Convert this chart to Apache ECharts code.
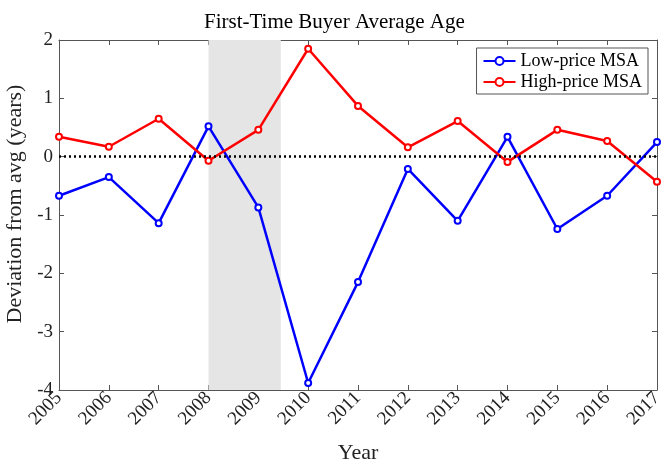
<!DOCTYPE html>
<html lang="en">
<head>
    <meta charset="UTF-8">
    <title>First-Time Buyer Average Age</title>
    <script src="https://cdn.jsdelivr.net/npm/echarts@6/dist/echarts.min.js"></script>
</head>
<body style="margin:0">
<div id="demo" style="width: 665px;height: 461px;"></div>
</body>
</html>
<script>
    var years = [2005, 2006, 2007, 2008, 2009, 2010, 2011, 2012, 2013, 2014, 2015, 2016, 2017];
    var lowPrice = [-0.67, -0.35, -1.14, 0.52, -0.87, -3.88, -2.15, -0.21, -1.10, 0.34, -1.24, -0.67, 0.25];
    var highPrice = [0.34, 0.17, 0.65, -0.07, 0.46, 1.85, 0.87, 0.16, 0.61, -0.09, 0.46, 0.27, -0.43];
    var bandRange = [2008, 2009.45];

    var font = 'Liberation Serif';
    function pairs(vals) {
        return years.map(function (y, i) { return [y, vals[i]]; });
    }

    var myChart = echarts.init(document.getElementById('demo'));
    var tickStyle = {show: true, inside: true, length: 5, lineStyle: {color: '#555'}};
    var option = {
        animation: false,
        textStyle: {fontFamily: font},
        title: {
            text: 'First-Time Buyer Average Age',
            left: 199,
            top: 7,
            textStyle: {fontFamily: font, fontSize: 21, fontWeight: 'normal', color: '#000'}
        },
        legend: {
            right: 17,
            top: 48,
            orient: 'vertical',
            backgroundColor: '#fff',
            borderColor: '#555',
            borderWidth: 1,
            borderRadius: 0,
            padding: [4, 6, 3, 6],
            itemGap: 3,
            itemWidth: 32,
            itemHeight: 10,
            textStyle: {fontFamily: font, fontSize: 18, color: '#000'},
            data: ['Low-price MSA', 'High-price MSA']
        },
        grid: {left: 59, right: 8, top: 40, bottom: 71, containLabel: false, outerBoundsMode: 'none'},
        xAxis: [{
            type: 'value',
            min: 2005,
            max: 2017,
            interval: 1,
            name: 'Year',
            nameLocation: 'middle',
            nameGap: 52,
            nameTextStyle: {fontFamily: font, fontSize: 22, color: '#222'},
            axisLine: {onZero: false, lineStyle: {color: '#555'}},
            axisTick: tickStyle,
            splitLine: {show: false},
            axisLabel: {rotate: 45, fontSize: 19, color: '#222', fontFamily: font, margin: 5,
                formatter: function (v) { return String(v); }}
        }, {
            type: 'value',
            position: 'top',
            min: 2005,
            max: 2017,
            interval: 1,
            axisLine: {show: true, onZero: false, lineStyle: {color: '#555'}},
            axisTick: tickStyle,
            axisLabel: {show: false},
            splitLine: {show: false}
        }],
        yAxis: [{
            type: 'value',
            min: -4,
            max: 2,
            interval: 1,
            name: 'Deviation from avg (years)',
            nameLocation: 'middle',
            nameGap: 29,
            nameTextStyle: {fontFamily: font, fontSize: 22, color: '#222', padding: [0, 0, 0, 22]},
            axisLine: {show: true, onZero: false, lineStyle: {color: '#555'}},
            axisTick: tickStyle,
            splitLine: {show: false},
            axisLabel: {fontSize: 19, color: '#222', fontFamily: font, margin: 6}
        }, {
            type: 'value',
            position: 'right',
            min: -4,
            max: 2,
            interval: 1,
            axisLine: {show: true, onZero: false, lineStyle: {color: '#555'}},
            axisTick: tickStyle,
            axisLabel: {show: false},
            splitLine: {show: false}
        }],
        series: [
            {
                name: 'Low-price MSA',
                type: 'line',
                data: pairs(lowPrice),
                symbol: 'emptyCircle',
                symbolSize: 6,
                lineStyle: {color: '#0000ff', width: 2.5},
                itemStyle: {color: '#0000ff', borderWidth: 2},
                z: 3,
                markArea: {
                    silent: true,
                    itemStyle: {color: '#e5e5e5'},
                    data: [[{xAxis: bandRange[0]}, {xAxis: bandRange[1]}]]
                },
                markLine: {
                    silent: true,
                    symbol: 'none',
                    label: {show: false},
                    lineStyle: {color: '#000', type: [2, 3], width: 2.5},
                    data: [{yAxis: 0}]
                }
            },
            {
                name: 'High-price MSA',
                type: 'line',
                data: pairs(highPrice),
                symbol: 'emptyCircle',
                symbolSize: 6,
                lineStyle: {color: '#ff0000', width: 2.5},
                itemStyle: {color: '#ff0000', borderWidth: 2},
                z: 3
            }
        ]
    };
    myChart.setOption(option);
</script>
